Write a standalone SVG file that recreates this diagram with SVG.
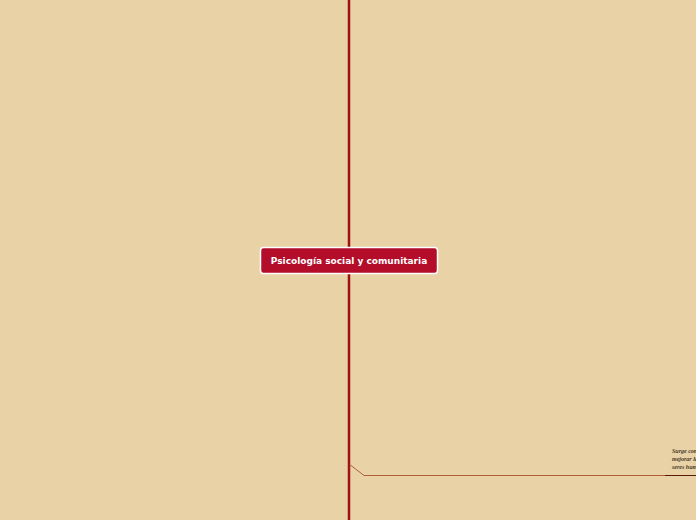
<svg xmlns="http://www.w3.org/2000/svg" width="696" height="520" viewBox="0 0 696 520">
<style>
.trunk{stroke:#a01212;stroke-width:2.5;fill:none}
.branch{stroke:#a0401e;stroke-width:0.8;fill:none}
.under{stroke:#5a1a08;stroke-width:1;fill:none}
.main{fill:#b30d2a;stroke:#ffffff;stroke-width:1.5}
.mt{font-family:"DejaVu Sans",sans-serif;font-weight:bold;font-size:9px;fill:#ffffff}
.sub{font-family:"Liberation Serif",serif;font-style:italic;font-weight:bold;font-size:6px;fill:#4a3a2a}
</style>
<rect width="696" height="520" fill="#e8d2a6"/>
<g id="connectors">
<line class="trunk" x1="349" y1="0" x2="349" y2="520"/>
<path class="branch" d="M349,464 L364,475.5 L665,475.5"/>
<line class="under" x1="665" y1="475.5" x2="696" y2="475.5"/>
</g>
<g id="node-main">
<rect class="main" x="260.5" y="247.5" width="177" height="26" rx="3"/>
<text class="mt" x="349" y="264" text-anchor="middle">Psicología social y comunitaria</text>
</g>
<g id="node-sub">
<text class="sub" x="672" y="453">Surge como</text>
<text class="sub" x="672" y="461">mejorar la</text>
<text class="sub" x="672" y="469">seres humanos</text>
</g>
</svg>
